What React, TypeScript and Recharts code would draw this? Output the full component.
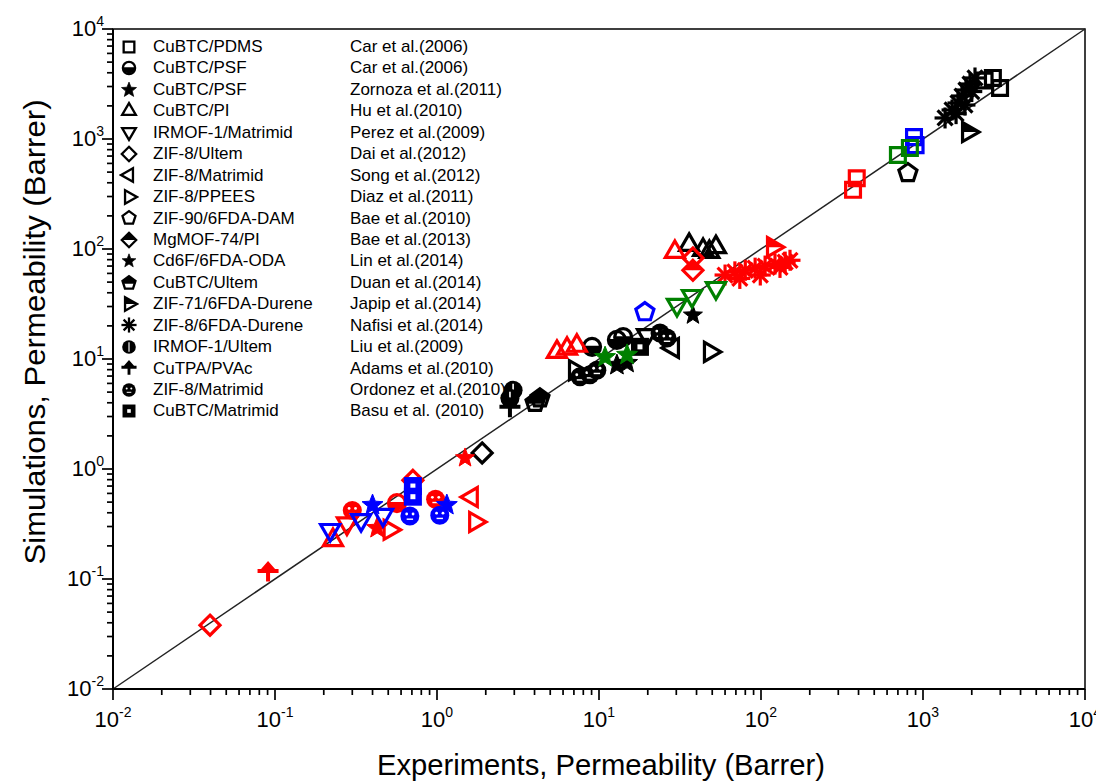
import React from 'react'
import { ScatterChart, Scatter, XAxis, YAxis, ReferenceLine, ReferenceArea, Label } from 'recharts'

type Gas = 'CO2' | 'N2' | 'CH4' | 'H2'
type Pt = { x: number; y: number; gas: Gas }
type Kind =
  | 'square' | 'halfCircle' | 'star' | 'triUp' | 'triDown' | 'diamond' | 'triLeft' | 'triRight'
  | 'pentagon' | 'halfDiamond' | 'smallStar' | 'halfPentagon' | 'halfTriRight' | 'asterisk'
  | 'circleLine' | 'club' | 'dotCircle' | 'squareDot'

const FONT = '"Liberation Sans", Arial, Helvetica, sans-serif'

const gasColors: Record<Gas, string> = { CO2: '#000000', N2: '#ff0000', CH4: '#0000ff', H2: '#008000' }
const gasOrder: Gas[] = ['CO2', 'N2', 'CH4', 'H2']

const decadeTicks = [0.01, 0.1, 1, 10, 100, 1000, 10000]
const minorSteps = [2, 3, 4, 5, 6, 7, 8, 9]

const p = (x: number, y: number, gas: Gas): Pt => ({ x, y, gas })

// experimental vs simulated permeability, one array per study
const cubtcPdms = [
  p(2700, 3590, 'CO2'), p(2990, 2910, 'CO2'), p(2400, 3400, 'CO2'),
  p(390, 440, 'N2'), p(370, 345, 'N2'),
  p(880, 1040, 'CH4'), p(900, 880, 'CH4'),
  p(830, 830, 'H2'), p(700, 716, 'H2'),
]
const cubtcPsfCar = [p(9.06, 12.9, 'CO2'), p(12.9, 14.9, 'CO2'), p(14.1, 15.8, 'CO2'), p(0.566, 0.49, 'N2')]
const cubtcPsfZornoza = [
  p(14.9, 9.2, 'CO2'), p(12.9, 8.8, 'CO2'),
  p(0.427, 0.29, 'N2'),
  p(0.4, 0.47, 'CH4'), p(1.15, 0.47, 'CH4'),
  p(10.9, 10.4, 'H2'), p(14.9, 10.9, 'H2'),
]
const cubtcPiHu = [
  p(36, 109, 'CO2'), p(43.9, 98, 'CO2'), p(52.7, 104, 'CO2'), p(48, 94, 'CO2'),
  p(29.4, 94, 'N2'), p(5.5, 11.6, 'N2'), p(6.35, 12.4, 'N2'), p(7.3, 13.2, 'N2'), p(0.228, 0.226, 'N2'),
]
const irmof1MatrimidPerez = [
  p(19.8, 16.5, 'CO2'),
  p(0.278, 0.32, 'N2'),
  p(0.219, 0.279, 'CH4'), p(0.34, 0.343, 'CH4'), p(0.464, 0.382, 'CH4'),
  p(30.3, 31, 'H2'), p(37.5, 37.4, 'H2'), p(52.7, 44.2, 'H2'),
]
const zif8UltemDai = [p(1.9, 1.4, 'CO2'), p(38, 83, 'N2'), p(0.0397, 0.038, 'N2'), p(0.71, 0.79, 'N2')]
const zif8MatrimidSong = [p(28.6, 12.6, 'CO2'), p(1.64, 0.556, 'N2')]
const zif8PpeesDiaz = [p(48.4, 11.6, 'CO2'), p(7.11, 7.9, 'CO2'), p(1.72, 0.33, 'N2'), p(0.51, 0.28, 'N2')]
const zif90Bae = [p(807, 491, 'CO2'), p(19.2, 26.7, 'CH4')]
const mgmof74Bae = [p(38, 64, 'N2')]
const cd6fLin = [p(38, 25, 'CO2'), p(1.49, 1.26, 'N2')]
const cubtcUltemDuan = [p(4.32, 4.4, 'CO2'), p(4.03, 4.0, 'CO2')]
const zif71Japip = [p(1897, 1157, 'CO2'), p(118.6, 104, 'N2')]
const zif8DureneNafisi = [
  p(1368, 1553, 'CO2'), p(1511, 1836, 'CO2'), p(1644, 2125, 'CO2'), p(1741, 2459, 'CO2'), p(1842, 2789, 'CO2'),
  p(1951, 3162, 'CO2'), p(2094, 3587, 'CO2'), p(1815, 2036, 'CO2'), p(1600, 1700, 'CO2'), p(2000, 2700, 'CO2'),
  p(60, 58, 'N2'), p(69, 62, 'N2'), p(80, 64, 'N2'), p(92, 67, 'N2'), p(106, 70, 'N2'), p(122, 73, 'N2'),
  p(141, 76, 'N2'), p(74, 54, 'N2'), p(99, 58, 'N2'), p(131, 68, 'N2'), p(151, 79, 'N2'),
]
const irmof1UltemLiu = [p(2.95, 5.2, 'CO2'), p(2.82, 4.4, 'CO2')]
const cutpaAdams = [p(2.82, 3.6, 'CO2'), p(0.0906, 0.116, 'N2')]
const zif8MatrimidOrdonez = [
  p(7.63, 6.9, 'CO2'), p(8.8, 7.2, 'CO2'), p(9.7, 7.9, 'CO2'), p(23.8, 17.2, 'CO2'), p(26.3, 15.5, 'CO2'),
  p(0.3, 0.42, 'N2'), p(0.98, 0.53, 'N2'),
  p(0.68, 0.374, 'CH4'), p(1.04, 0.38, 'CH4'),
]
const cubtcMatrimidBasu = [p(17.9, 12.9, 'CO2'), p(0.71, 0.7, 'CH4'), p(0.71, 0.56, 'CH4')]

const studies: { name: string; ref: string; kind: Kind; data: Pt[] }[] = [
  { name: 'CuBTC/PDMS', ref: 'Car et al.(2006)', kind: 'square', data: cubtcPdms },
  { name: 'CuBTC/PSF', ref: 'Car et al.(2006)', kind: 'halfCircle', data: cubtcPsfCar },
  { name: 'CuBTC/PSF', ref: 'Zornoza et al.(2011)', kind: 'star', data: cubtcPsfZornoza },
  { name: 'CuBTC/PI', ref: 'Hu et al.(2010)', kind: 'triUp', data: cubtcPiHu },
  { name: 'IRMOF-1/Matrimid', ref: 'Perez et al.(2009)', kind: 'triDown', data: irmof1MatrimidPerez },
  { name: 'ZIF-8/Ultem', ref: 'Dai et al.(2012)', kind: 'diamond', data: zif8UltemDai },
  { name: 'ZIF-8/Matrimid', ref: 'Song et al.(2012)', kind: 'triLeft', data: zif8MatrimidSong },
  { name: 'ZIF-8/PPEES', ref: 'Diaz et al.(2011)', kind: 'triRight', data: zif8PpeesDiaz },
  { name: 'ZIF-90/6FDA-DAM', ref: 'Bae et al.(2010)', kind: 'pentagon', data: zif90Bae },
  { name: 'MgMOF-74/PI', ref: 'Bae et al.(2013)', kind: 'halfDiamond', data: mgmof74Bae },
  { name: 'Cd6F/6FDA-ODA', ref: 'Lin et al.(2014)', kind: 'smallStar', data: cd6fLin },
  { name: 'CuBTC/Ultem', ref: 'Duan et al.(2014)', kind: 'halfPentagon', data: cubtcUltemDuan },
  { name: 'ZIF-71/6FDA-Durene', ref: 'Japip et al.(2014)', kind: 'halfTriRight', data: zif71Japip },
  { name: 'ZIF-8/6FDA-Durene', ref: 'Nafisi et al.(2014)', kind: 'asterisk', data: zif8DureneNafisi },
  { name: 'IRMOF-1/Ultem', ref: 'Liu et al.(2009)', kind: 'circleLine', data: irmof1UltemLiu },
  { name: 'CuTPA/PVAc', ref: 'Adams et al.(2010)', kind: 'club', data: cutpaAdams },
  { name: 'ZIF-8/Matrimid', ref: 'Ordonez et al.(2010)', kind: 'dotCircle', data: zif8MatrimidOrdonez },
  { name: 'CuBTC/Matrimid', ref: 'Basu et al. (2010)', kind: 'squareDot', data: cubtcMatrimidBasu },
]

const allTicks = [
  ...decadeTicks,
  ...decadeTicks.slice(0, -1).flatMap((d) => minorSteps.map((m) => d * m)),
].sort((a, b) => a - b)

const isMajor = (v: number) => decadeTicks.some((d) => Math.abs(v - d) < d * 1e-6)

const poly = (n: number, r: number, rot: number) =>
  Array.from({ length: n }, (_, i) => {
    const a = ((rot + (360 * i) / n) * Math.PI) / 180
    return `${(r * Math.cos(a)).toFixed(2)},${(r * Math.sin(a)).toFixed(2)}`
  }).join(' ')

const starPts = (ro: number, ri: number) =>
  Array.from({ length: 10 }, (_, i) => {
    const a = ((-90 + 36 * i) * Math.PI) / 180
    const r = i % 2 ? ri : ro
    return `${(r * Math.cos(a)).toFixed(2)},${(r * Math.sin(a)).toFixed(2)}`
  }).join(' ')

const Marker = ({ kind, color, x, y, k = 1 }: { kind: Kind; color: string; x: number; y: number; k?: number }) => {
  const sw = 3.2
  const open = { fill: 'none', stroke: color, strokeWidth: sw, strokeLinejoin: 'miter' as const }
  let body: React.ReactNode = null
  switch (kind) {
    case 'square':
      body = <polygon points={poly(4, 10.5, -45)} {...open} />
      break
    case 'halfCircle':
      body = (
        <>
          <path d="M -8.5 -1 A 8.5 8.5 0 1 0 8.5 -1 Z" fill={color} />
          <circle r={8.5} {...open} />
        </>
      )
      break
    case 'star':
      body = <polygon points={starPts(11, 4.8)} fill={color} stroke={color} strokeWidth={1} />
      break
    case 'smallStar':
      body = <polygon points={starPts(10, 4.2)} fill={color} stroke={color} strokeWidth={1} />
      break
    case 'triUp':
      body = <polygon points={poly(3, 11, -90)} {...open} />
      break
    case 'triDown':
      body = <polygon points={poly(3, 11, 90)} {...open} />
      break
    case 'triLeft':
      body = <polygon points={poly(3, 11, 180)} {...open} />
      break
    case 'triRight':
      body = <polygon points={poly(3, 11, 0)} {...open} />
      break
    case 'diamond':
      body = <polygon points={poly(4, 10, -90)} {...open} />
      break
    case 'pentagon':
      body = <polygon points={poly(5, 9.5, -90)} {...open} />
      break
    case 'halfDiamond':
      body = (
        <>
          <polygon points="0,-10 10,0 -10,0" fill={color} />
          <polygon points={poly(4, 10, -90)} {...open} />
        </>
      )
      break
    case 'halfPentagon':
      body = (
        <>
          <polygon points="0,-9.5 9.04,-2.94 8.1,1 -8.1,1 -9.04,-2.94" fill={color} />
          <polygon points={poly(5, 9.5, -90)} {...open} />
        </>
      )
      break
    case 'halfTriRight':
      body = (
        <>
          <polygon points="11,0 -5.5,-9.53 -5.5,0" fill={color} />
          <polygon points={poly(3, 11, 0)} {...open} />
        </>
      )
      break
    case 'asterisk':
      body = (
        <g stroke={color} strokeWidth={sw}>
          <line x1={-10.5} y1={0} x2={10.5} y2={0} />
          <line x1={0} y1={-10.5} x2={0} y2={10.5} />
          <line x1={-7.5} y1={-7.5} x2={7.5} y2={7.5} />
          <line x1={-7.5} y1={7.5} x2={7.5} y2={-7.5} />
        </g>
      )
      break
    case 'circleLine':
      body = (
        <>
          <circle r={9.5} fill={color} />
          <line x1={0} y1={-6.5} x2={0} y2={6.5} stroke="#fff" strokeWidth={1.6} />
        </>
      )
      break
    case 'club':
      body = (
        <path
          d="M 0 -11 L 7 -3 L 10.5 -3 L 10.5 1 L 2 1 L 2 9.5 L -2 9.5 L -2 1 L -10.5 1 L -10.5 -3 L -7 -3 Z"
          fill={color}
        />
      )
      break
    case 'dotCircle':
      body = (
        <>
          <circle r={9.5} fill={color} />
          <circle cx={-3.2} cy={-2} r={1.4} fill="#fff" />
          <circle cx={3.2} cy={-2} r={1.4} fill="#fff" />
          <line x1={-3.2} y1={3.2} x2={3.2} y2={3.2} stroke="#fff" strokeWidth={1.4} />
        </>
      )
      break
    case 'squareDot':
      body = (
        <>
          <rect x={-9} y={-9} width={18} height={18} fill={color} />
          <rect x={-2.5} y={-2.5} width={5} height={5} fill="#fff" />
        </>
      )
      break
  }
  return <g transform={`translate(${x},${y}) scale(${k})`}>{body}</g>
}

const XTick = (props: any) => {
  const { x, y, payload } = props
  const v = payload.value as number
  const major = isMajor(v)
  const e = Math.round(Math.log10(v))
  return (
    <g>
      <line x1={x} y1={y} x2={x} y2={y + (major ? 11 : 6)} stroke="#000" strokeWidth={1.7} />
      {major && (
        <text x={x} y={y + 38} textAnchor="middle" fontSize={22} fontFamily={FONT} fill="#000">
          10<tspan dy={-10} fontSize={14}>{e}</tspan>
        </text>
      )}
    </g>
  )
}

const YTick = (props: any) => {
  const { x, y, payload } = props
  const v = payload.value as number
  const major = isMajor(v)
  const e = Math.round(Math.log10(v))
  return (
    <g>
      <line x1={x} y1={y} x2={x - (major ? 11 : 6)} y2={y} stroke="#000" strokeWidth={1.7} />
      {major && (
        <text x={x - 9} y={y + 7} textAnchor="end" fontSize={22} fontFamily={FONT} fill="#000">
          10<tspan dy={-10} fontSize={14}>{e}</tspan>
        </text>
      )}
    </g>
  )
}

const W = 1096
const H = 775
const margin = { top: 21, right: 19, bottom: 34, left: 0 }

const App = () => {
  return (
    <div style={{ position: 'relative', width: W, height: H }}>
      <ScatterChart width={W} height={H} margin={margin}>
        <XAxis
          dataKey="x"
          type="number"
          scale="log"
          domain={[0.01, 10000]}
          allowDataOverflow
          ticks={allTicks}
          interval={0}
          tick={<XTick />}
          tickLine={false}
          tickSize={0}
          tickMargin={0}
          height={60}
          axisLine={{ stroke: '#000', strokeWidth: 2 }}
        >
          <Label
            content={() => (
              <text
                x={593}
                y={767}
                textAnchor="middle"
                fontSize={29}
                textLength={448}
                lengthAdjust="spacingAndGlyphs"
                fontFamily={FONT}
                fill="#000"
              >
                Experiments, Permeability (Barrer)
              </text>
            )}
          />
        </XAxis>
        <YAxis
          dataKey="y"
          type="number"
          scale="log"
          domain={[0.01, 10000]}
          allowDataOverflow
          ticks={allTicks}
          interval={0}
          tick={<YTick />}
          tickLine={false}
          tickSize={0}
          tickMargin={0}
          width={105}
          axisLine={{ stroke: '#000', strokeWidth: 2 }}
        >
          <Label
            content={() => (
              <text
                x={37}
                y={324}
                transform="rotate(-90, 37, 324)"
                textAnchor="middle"
                fontSize={29}
                textLength={465}
                lengthAdjust="spacingAndGlyphs"
                fontFamily={FONT}
                fill="#000"
              >
                Simulations, Permeability (Barrer)
              </text>
            )}
          />
        </YAxis>
        <ReferenceArea x1={0.01} x2={10000} y1={0.01} y2={10000} fill="none" fillOpacity={0} stroke="#000" strokeWidth={1.5} />
        <ReferenceLine
          segment={[{ x: 0.01, y: 0.01 }, { x: 10000, y: 10000 }]}
          stroke="#222"
          strokeWidth={1.5}
        />
        {gasOrder.flatMap((gas) =>
          studies.map((s, i) => {
            const pts = s.data.filter((d) => d.gas === gas)
            if (!pts.length) return null
            return (
              <Scatter
                key={`${gas}-${i}`}
                data={pts}
                isAnimationActive={false}
                shape={(props: any) => (
                  <Marker kind={s.kind} color={gasColors[gas]} x={props.cx} y={props.cy} />
                )}
              />
            )
          })
        )}
      </ScatterChart>
      <div
        style={{
          position: 'absolute',
          left: 105,
          top: 28,
          fontFamily: FONT,
          fontSize: 17,
          color: '#000',
          pointerEvents: 'none',
        }}
      >
        {studies.map((s, i) => (
          <div key={i} style={{ position: 'relative', height: 21.45, lineHeight: '21.45px', width: 420 }}>
            <svg width={20} height={20} style={{ position: 'absolute', left: 6, top: 0.7 }}>
              <Marker kind={s.kind} color="#000" x={10} y={10} k={0.72} />
            </svg>
            <span style={{ position: 'absolute', left: 40, whiteSpace: 'nowrap' }}>{s.name}</span>
            <span style={{ position: 'absolute', left: 237, whiteSpace: 'nowrap' }}>{s.ref}</span>
          </div>
        ))}
      </div>
    </div>
  )
}

export default App
